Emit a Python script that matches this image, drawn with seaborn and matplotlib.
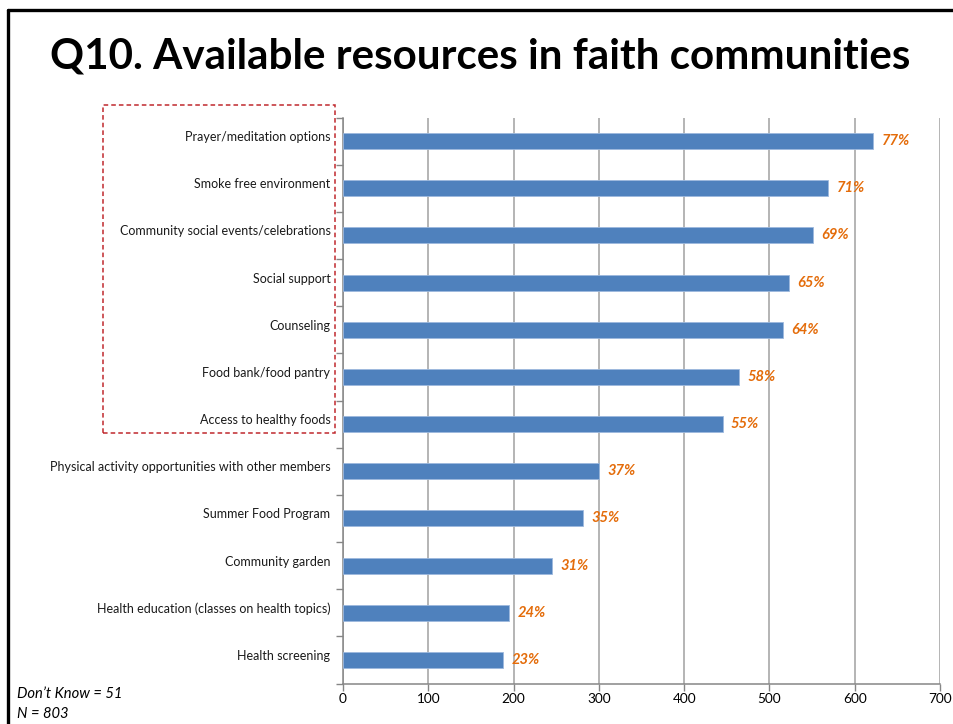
import matplotlib
matplotlib.use("Agg")
import matplotlib.pyplot as plt
from matplotlib.lines import Line2D
from matplotlib.patches import Rectangle
from matplotlib.ticker import FixedLocator
from matplotlib.transforms import ScaledTranslation
import numpy as np
import pandas as pd
import seaborn as sns

# Survey responses: number of respondents reporting each resource
resources = [
    "Prayer/meditation options",
    "Smoke free environment",
    "Community social events/celebrations",
    "Social support",
    "Counseling",
    "Food bank/food pantry",
    "Access to healthy foods",
    "Physical activity opportunities with other members",
    "Summer Food Program",
    "Community garden",
    "Health education (classes on health topics)",
    "Health screening",
]
counts = [622, 569, 551, 523, 516, 464, 445, 300, 281, 245, 195, 188]
n_total = 803
dont_know = 51
x_ticks = [0, 100, 200, 300, 400, 500, 600, 700]

title_text = "Q10. Available resources in faith communities"

df = pd.DataFrame({"resource": resources, "count": counts})
df["pct"] = (df["count"] / n_total * 100).round().astype(int)

sns.set_theme(style="white")
plt.rcParams["font.family"] = ["Lato", "DejaVu Sans"]

W, H = 954, 724
fig = plt.figure(figsize=(W / 100, H / 100), dpi=100)
fig.patch.set_facecolor("white")

ax_left, ax_right = 343 / W, 940 / W
ax_top, ax_bot = 1 - 117.5 / H, 1 - 683.5 / H
ax = fig.add_axes([ax_left, ax_bot, ax_right - ax_left, ax_top - ax_bot])

bar_color = "#4F81BD"
sns.barplot(data=df, x="count", y="resource", orient="h", color=bar_color,
            width=0.34, saturation=1, edgecolor="#9DB9DD", linewidth=0.6,
            ax=ax, zorder=3)

ax.set_xlim(0, 700)
ax.set_ylim(len(resources) - 0.5, -0.5)
ax.set_xlabel("")
ax.set_ylabel("")

grid_c = "#A0A0A0"
ax.xaxis.set_major_locator(FixedLocator(x_ticks))
ax.set_xticklabels([str(t) for t in x_ticks], fontsize=9.8, color="black")
ax.grid(axis="x", color=grid_c, linewidth=1.1, zorder=0)
ax.set_axisbelow(True)

# Category ticks sit on the boundaries between bars
ax.yaxis.set_minor_locator(FixedLocator(np.arange(-0.5, len(resources), 1.0)))
ax.tick_params(axis="y", which="major", length=0, pad=9, labelsize=9.0,
               labelcolor="#1A1A1A")
ax.tick_params(axis="y", which="minor", length=5, width=1.0, color="#868686",
               left=True, direction="out")
ax.tick_params(axis="x", which="major", length=5, width=1.0, color="#868686",
               bottom=True, direction="out", pad=2)

# Category names sit a little above the bar centres
lift = ScaledTranslation(0, 5 / 100, fig.dpi_scale_trans)
for lbl in ax.get_yticklabels():
    lbl.set_transform(lbl.get_transform() + lift)

for side in ["top", "right"]:
    ax.spines[side].set_visible(False)
for side in ["left", "bottom"]:
    ax.spines[side].set_color("#868686")
    ax.spines[side].set_linewidth(1.1)

# Percentage labels at the end of each bar
for i, row in df.iterrows():
    ax.annotate(f"{row['pct']}%", xy=(row["count"], i), xytext=(6, 0),
                textcoords="offset points", va="center", ha="left",
                fontsize=10.6, fontweight="bold", fontstyle="italic",
                color="#E46C0A", zorder=4)

# Slide title
fig.text(480 / W, 1 - 57 / H, title_text, ha="center", va="center",
         fontsize=30.3, fontweight="bold", color="black")

# Dashed box around the most frequently reported resources
fig.add_artist(Rectangle((103 / W, 1 - 433 / H), (335 - 103) / W,
                         (433 - 105) / H, transform=fig.transFigure,
                         fill=False, edgecolor="#C0282D", linewidth=1.1,
                         linestyle=(0, (3, 2))))

# Slide frame
fig.add_artist(Line2D([8 / W, 1.0], [1 - 10 / H, 1 - 10 / H],
                      transform=fig.transFigure, color="black", linewidth=2.4))
fig.add_artist(Line2D([8 / W, 8 / W], [1 - 10 / H, 0.0],
                      transform=fig.transFigure, color="black", linewidth=2.4))

# Footnotes
fig.text(17 / W, 1 - 694 / H, f"Don\u2019t Know = {dont_know}", ha="left",
         va="center", fontsize=10.6, fontstyle="italic", color="black")
fig.text(17 / W, 1 - 714 / H, f"N = {n_total}", ha="left", va="center",
         fontsize=10.6, fontstyle="italic", color="black")

fig.savefig("out.png", dpi=100, facecolor="white")
